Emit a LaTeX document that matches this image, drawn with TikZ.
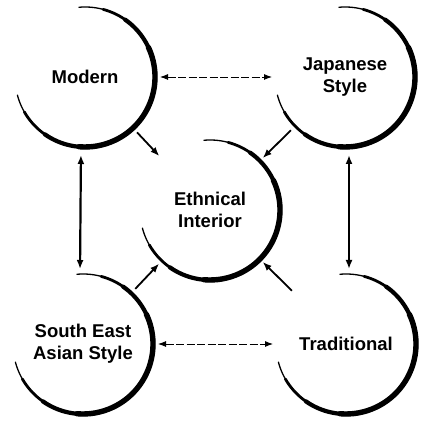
\documentclass[tikz,border=0pt]{standalone}
\usepackage{fontspec}
\setmainfont{Liberation Sans}
\usetikzlibrary{arrows.meta}

\begin{document}
\begin{tikzpicture}[x=1pt,y=1pt,
  topic/.style={circle,minimum size=140pt,inner sep=0pt,outer sep=0pt,align=center,
    font=\fontsize{18.5}{22}\selectfont\bfseries},
  rim/.style={line width=#1,line cap=round},
  pair/.style={line width=0.9pt,dash pattern=on 8pt off 2.5pt,{Latex[length=8pt,width=6pt]}-{Latex[length=8pt,width=6pt]},shorten <=5pt,shorten >=3pt},
  pairv/.style={line width=2.2pt,{Latex[length=9pt,width=7pt]}-{Latex[length=9pt,width=7pt]},shorten <=8pt,shorten >=5pt},
  feed/.style={line width=1.8pt,-{Latex[length=9pt,width=7pt]},shorten <=6pt,shorten >=4pt}]
\useasboundingbox (0,0) rectangle (422,422);
\node[topic] (mod) at (85,345) {Modern};
\node[topic] (jap) at (345,345) {Japanese\\Style};
\node[topic] (eth) at (210,212) {Ethnical\\Interior};
\node[topic] (sea) at (83,78) {South East\\Asian Style};
\node[topic] (trd) at (346,78) {Traditional};
% brush rims, thick on the right
\foreach \n in {mod,jap,eth,sea,trd} {
  \foreach \w/\a/\b in {1.3pt/95/-165,2.8pt/75/-150,4.2pt/55/-125,5.4pt/25/-95} {
    \draw[rim=\w] (\n.\a) arc[start angle=\a, end angle=\b, radius=70pt];
  }
}
\draw[pair] (mod) -- (jap);
\draw[pair] (sea) -- (trd);
\draw[pairv] ([xshift=-4pt]mod.south) -- ([xshift=-3pt]sea.north);
\draw[pairv] ([xshift=4pt]jap.south) -- ([xshift=3pt]trd.north);
\draw[feed] (mod) -- (eth);
\draw[feed] (jap) -- (eth);
\draw[feed] (sea) -- (eth);
\draw[feed] (trd) -- (eth);
\end{tikzpicture}
\end{document}
